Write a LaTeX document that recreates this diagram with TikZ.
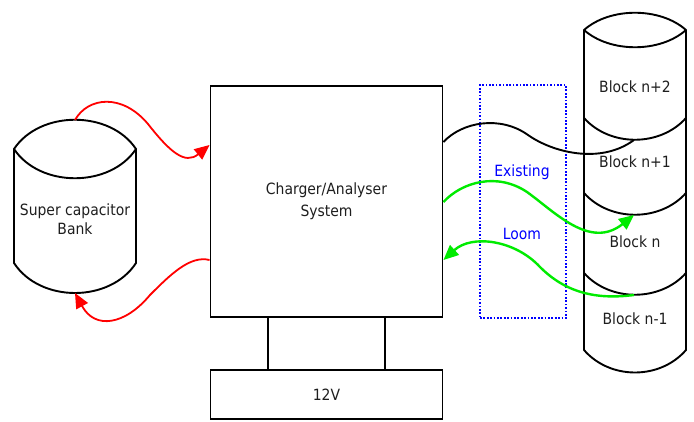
\documentclass[tikz,border=0pt]{standalone}
\usepackage{fontspec}
\setmainfont{DejaVu Sans Condensed}
\usetikzlibrary{arrows.meta}
\definecolor{wiregreen}{RGB}{0,235,0}
\definecolor{txt}{RGB}{30,30,30}
\begin{document}
\begin{tikzpicture}[x=1pt,y=-1pt,
  outline/.style={line width=1.9pt, black, line join=round},
  boxst/.style={draw, line width=1.9pt, inner sep=0pt, align=center,
    font=\fontsize{15.5}{22}\selectfont, text=txt},
  lbl/.style={font=\fontsize{15.5}{19}\selectfont, text=txt, align=center, inner sep=0pt},
  bluelbl/.style={font=\fontsize{15.5}{19}\selectfont, text=blue, inner sep=0pt},
  redwire/.style={line width=1.8pt, red},
  greenwire/.style={line width=2.4pt, wiregreen},
  tip/.style={-{Triangle[length=15pt,width=13pt]}},
]
\useasboundingbox (0,0) rectangle (694,422);

% main boxes
\node[boxst, minimum width=232pt, minimum height=231pt] (charger) at (326.5,201.5) {Charger/Analyser\\System};
\node[boxst, minimum width=232pt, minimum height=49pt] (v12) at (326.5,394.5) {12V};
\draw[outline] ([xshift=-58.5pt]charger.south) -- ([xshift=-58.5pt]v12.north);
\draw[outline] ([xshift=58.5pt]charger.south) -- ([xshift=58.5pt]v12.north);

% super capacitor bank
\draw[outline] (14,149) .. controls (40,110) and (110,110) .. (136,149)
  .. controls (110,188) and (40,188) .. (14,149) -- (14,263)
  .. controls (40,303) and (110,303) .. (136,263) -- (136,149);
\node[lbl] (cap) at (75,219) {Super capacitor\\Bank};
\coordinate (capT) at (75,120);
\coordinate (capB) at (75,293);

% block column
\draw[outline] (584,30) .. controls (610,7) and (660,7) .. (686,30)
  .. controls (660,53) and (610,53) .. (584,30) -- (584,350)
  .. controls (610,380) and (660,380) .. (686,350) -- (686,30);
\draw[outline] (584,118) .. controls (610,147) and (660,147) .. (686,118);
\draw[outline] (584,193) .. controls (610,222) and (660,222) .. (686,193);
\draw[outline] (584,273) .. controls (610,302) and (660,302) .. (686,273);
\node[lbl] (b2) at (635,87) {Block n+2};
\node[lbl] (b1) at (635,162) {Block n+1};
\node[lbl] (b0) at (635,242) {Block n};
\node[lbl] (bm) at (635,319) {Block n-1};
\coordinate (d1) at (634,140);
\coordinate (d2) at (634,215);
\coordinate (d3) at (634,295);

% existing loom
\node[draw=blue, dash pattern=on 1.7pt off 1.7pt, line width=1.7pt, minimum width=86pt,
  minimum height=233pt, inner sep=0pt] (loom) at (523,201.5) {};
\node[bluelbl] (ex) at (522,172) {Existing};
\node[bluelbl] (lm) at (522,234) {Loom};

% charger side points
\coordinate (cE1) at (charger.east |- 0,142);
\coordinate (cE2) at (charger.east |- 0,202);
\coordinate (cE3) at (charger.east |- 0,260);
\coordinate (cW1) at (charger.west |- 0,145);
\coordinate (cW2) at (charger.west |- 0,260);

% red wires
\draw[redwire, tip] (capT) .. controls (88,97) and (122,93) .. (148,124)
  .. controls (170,152) and (185,165) .. (cW1);
\draw[redwire, tip] (cW2) .. controls (190,255) and (170,275) .. (150,295)
  .. controls (125,325) and (95,330) .. (capB);

% black wire
\draw[outline] (cE1) .. controls (462,122) and (500,115) .. (528,135)
  .. controls (552,152) and (600,165) .. (d1);

% green wires
\draw[greenwire, tip] (cE2) .. controls (462,182) and (497,172) .. (527,192)
  .. controls (555,212) and (590,250) .. (d2);
\draw[greenwire, tip] (d3) .. controls (595,300) and (565,292) .. (540,267)
  .. controls (515,240) and (472,234) .. (cE3);
\end{tikzpicture}
\end{document}
